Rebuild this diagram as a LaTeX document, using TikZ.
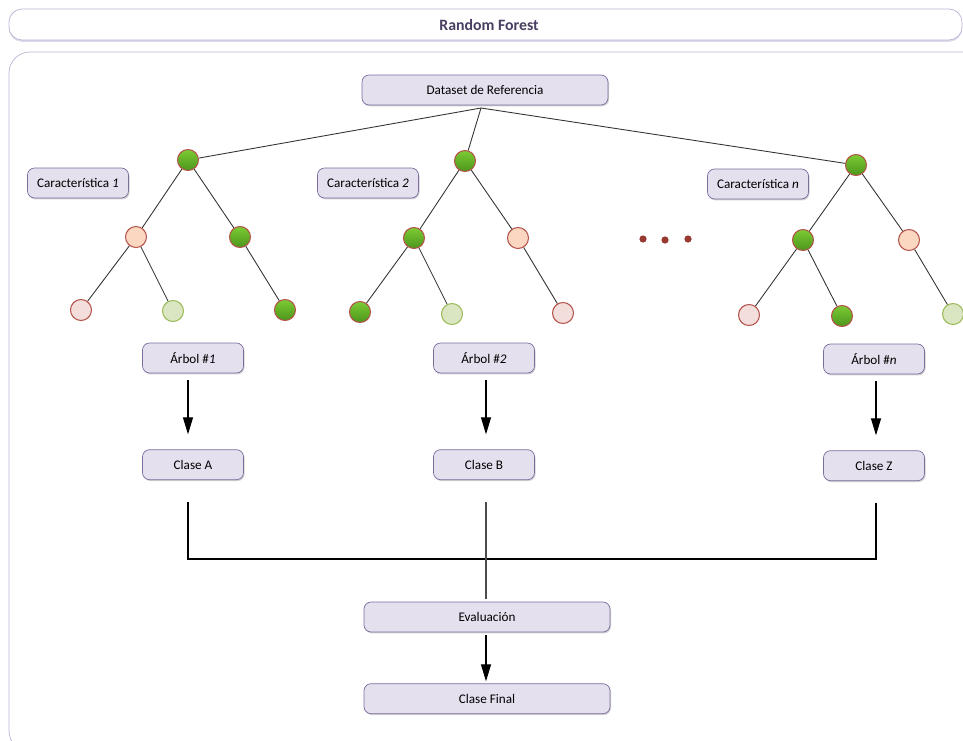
\documentclass[tikz,border=0pt]{standalone}
\usepackage{fontspec}
\setmainfont{Carlito}
\usetikzlibrary{arrows.meta,positioning,shadows}
\definecolor{boxfill}{HTML}{E5E0EE}
\definecolor{boxline}{HTML}{7B6C9E}
\definecolor{frameline}{HTML}{BDB3D6}
\definecolor{titletext}{HTML}{4A3F63}
\definecolor{redline}{HTML}{B4524A}
\definecolor{greentop}{HTML}{7CCB34}
\definecolor{greenbot}{HTML}{4C951C}
\definecolor{peach}{HTML}{FBD7C1}
\definecolor{pinkish}{HTML}{F3DEDC}
\definecolor{palegreen}{HTML}{DAE6C2}
\definecolor{paleline}{HTML}{9BBB59}
\definecolor{dotred}{HTML}{963A32}
\tikzset{
box/.style={draw=boxline,fill=boxfill,rounded corners=4pt,align=center,minimum height=.6cm,font=\fontsize{7.5}{9}\selectfont,
  drop shadow={shadow xshift=.6pt,shadow yshift=-.8pt,fill=black!35}},
widebox/.style={box,minimum width=4.92cm},
smallbox/.style={box,minimum width=2.02cm},
leaf/.style={circle,minimum size=.42cm,inner sep=0pt,line width=.6pt},
gnode/.style={leaf,draw=redline,top color=greentop,bottom color=greenbot},
onode/.style={leaf,draw=redline,fill=peach},
pnode/.style={leaf,draw=redline,fill=pinkish},
lnode/.style={leaf,draw=paleline,fill=palegreen},
edge/.style={draw=black!80,line width=.5pt},
link/.style={black,line width=.6pt},
arrow/.style={-{Triangle[length=.34cm,width=.2cm]},line width=.6pt}
}
\begin{document}
\begin{tikzpicture}[x=.02cm,y=-.02cm]
\clip (0,0) rectangle (963,740);
\draw[frameline,fill=white,rounded corners=.26cm,drop shadow={shadow xshift=0pt,shadow yshift=-1pt,fill=frameline}] (9,9) rectangle (962,40);
\node[font=\fontsize{9}{11}\selectfont\bfseries,text=titletext] (title) at (489,25) {Random Forest};
\draw[frameline,rounded corners=.42cm] (9,52) rectangle (985,752);

\node[widebox] (ds) at (485,90) {Dataset de Referencia};
\coordinate (top) at (481,108);

\node[smallbox] (car1) at (78,183) {Característica \textit{1}};
\node[smallbox] (car2) at (368,183) {Característica \textit{2}};
\node[smallbox] (carn) at (758,184) {Característica \textit{n}};

\node[gnode] (t1) at (188,160) {};
\node[onode] (t1a) at (136,237) {};
\node[gnode] (t1b) at (240,237) {};
\node[pnode] (t1aa) at (81,310) {};
\node[lnode] (t1ab) at (173,311) {};
\node[gnode] (t1bb) at (285,310) {};

\node[gnode] (t2) at (465,161) {};
\node[gnode] (t2a) at (414,238) {};
\node[onode] (t2b) at (518,238) {};
\node[gnode] (t2aa) at (360,312) {};
\node[lnode] (t2ab) at (452,314) {};
\node[pnode] (t2bb) at (563,313) {};

\node[gnode] (t3) at (856,165) {};
\node[gnode] (t3a) at (803,240) {};
\node[onode] (t3b) at (909,240) {};
\node[pnode] (t3aa) at (749,315) {};
\node[gnode] (t3ab) at (842,316) {};
\node[lnode] (t3bb) at (953,314) {};

\foreach \x/\y in {643/239,665/240,688/239}
  \fill[dotred] (\x,\y) circle (3.6);

\draw[edge] (top) -- (t1);
\draw[edge] (top) -- (t2);
\draw[edge] (top) -- (t3);
\foreach \t in {t1,t2,t3}{
  \draw[edge] (\t) -- (\t a);
  \draw[edge] (\t) -- (\t b);
  \draw[edge] (\t a) -- (\t aa);
  \draw[edge] (\t a) -- (\t ab);
  \draw[edge] (\t b) -- (\t bb);
}

\node[smallbox] (arb1) at (193,358) {Árbol \#\textit{1}};
\node[smallbox] (arb2) at (484,358) {Árbol \#\textit{2}};
\node[smallbox] (arbn) at (874,359) {Árbol \#\textit{n}};

\node[smallbox,below=1.52cm of arb1] (clA) {Clase A};
\node[smallbox,below=1.52cm of arb2] (clB) {Clase B};
\node[smallbox,below=1.52cm of arbn] (clZ) {Clase Z};

\coordinate (jA) at (188,559);
\coordinate (jZ) at (876,559);
\coordinate (jB) at (486,559);

\draw[arrow,shorten <=.14cm,shorten >=.3cm] (arb1.south -| jA) -- (clA.north -| jA);
\draw[arrow,shorten <=.14cm,shorten >=.3cm] (arb2.south -| jB) -- (clB.north -| jB);
\draw[arrow,shorten <=.14cm,shorten >=.3cm] (arbn.south -| jZ) -- (clZ.north -| jZ);

\node[widebox] (eval) at (487,617) {Evaluación};
\node[widebox,below=1.02cm of eval] (final) {Clase Final};

\draw[link,shorten <=.44cm,shorten >=.44cm] (clA.south -| jA) -- (jA) -- (jZ) -- (clZ.south -| jZ);
\draw[link,black!70,shorten <=.44cm,shorten >=.06cm] (clB.south -| jB) -- (eval.north -| jB);
\draw[arrow,shorten <=.06cm,shorten >=.04cm] (eval.south -| jB) -- (final.north -| jB);
\end{tikzpicture}
\end{document}
